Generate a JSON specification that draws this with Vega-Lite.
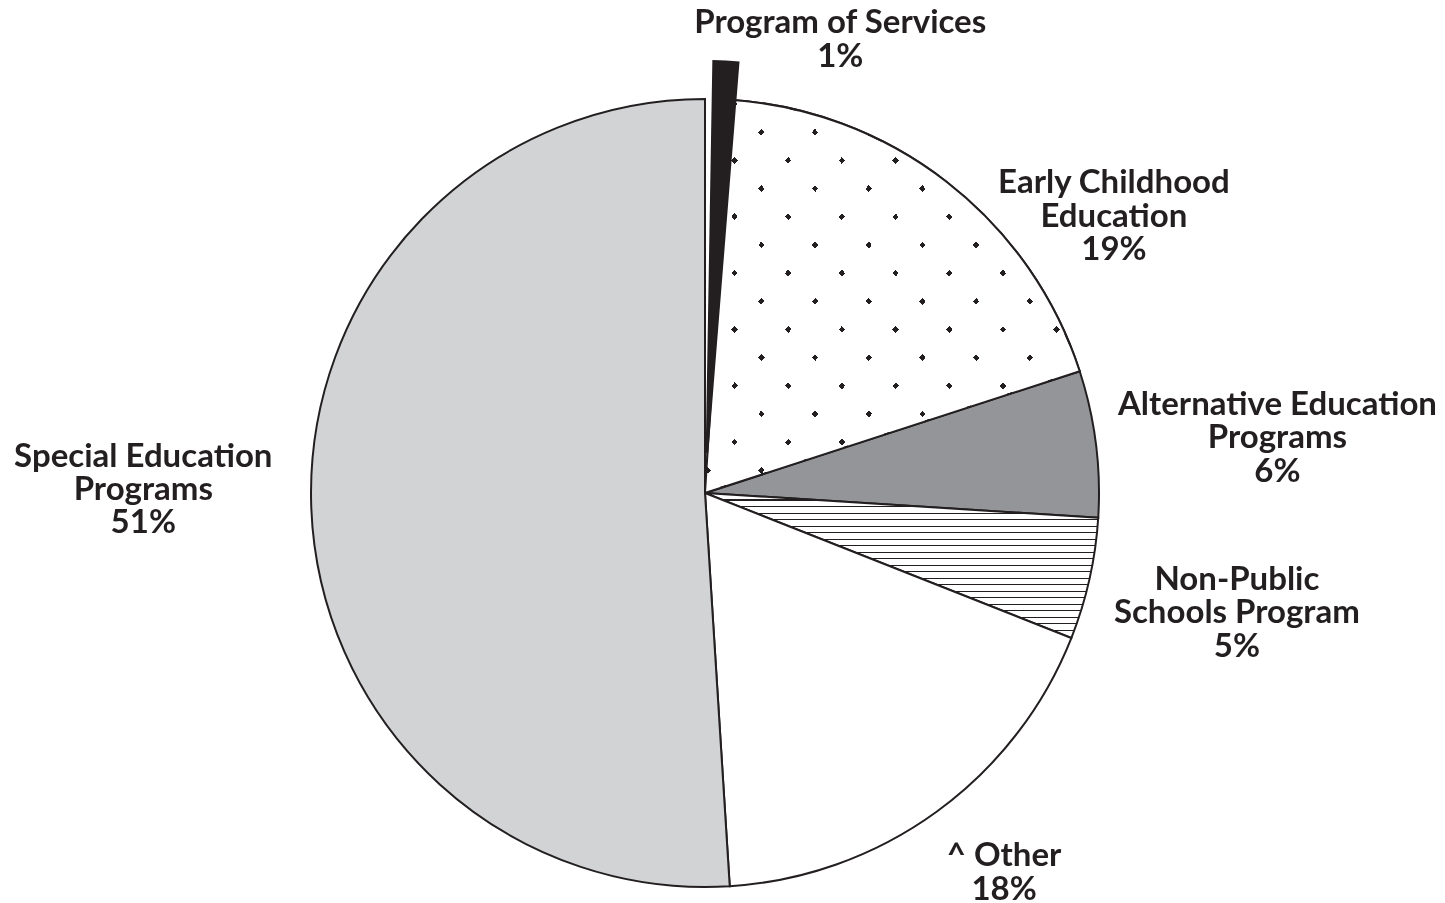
{
  "$schema": "https://vega.github.io/schema/vega-lite/v6.json",
  "width": 1410,
  "height": 788,
  "padding": {"left": 0, "top": 99, "right": 35, "bottom": 16},
  "autosize": {"type": "none"},
  "background": "#ffffff",
  "view": {"stroke": null},
  "data": {
    "values": [
      {"key": "POS", "idx": 1, "name": "Program of Services", "pct": 1},
      {"key": "ECE", "idx": 2, "name": "Early Childhood|Education", "pct": 19},
      {"key": "AEP", "idx": 3, "name": "Alternative Education|Programs", "pct": 6},
      {"key": "NPS", "idx": 4, "name": "Non-Public|Schools Program", "pct": 5},
      {"key": "OTH", "idx": 5, "name": "^ Other", "pct": 18},
      {"key": "SEP", "idx": 6, "name": "Special Education|Programs", "pct": 51}
    ]
  },
  "transform": [{"calculate": "datum.name + '|' + datum.pct + '%'", "as": "label"}],
  "encoding": {
    "theta": {"field": "pct", "type": "quantitative", "stack": true},
    "order": {"field": "idx", "type": "quantitative"},
    "detail": {"field": "key", "type": "nominal"}
  },
  "layer": [
    {
      "mark": {"type": "arc", "radius": 394, "stroke": "#231f20", "strokeWidth": 2},
      "encoding": {
        "fill": {
          "condition": [
            {"test": "datum.key === 'SEP'", "value": "#d1d3d4"},
            {"test": "datum.key === 'AEP'", "value": "#939598"},
            {"test": "datum.key === 'ECE'", "value": {
              "gradient": "linear", "x1": 0, "y1": 0, "x2": 1, "y2": 1,
              "stops": [
                {"offset": 0, "color": "#ffffff"},
                {"offset": 0.0405, "color": "#ffffff"}, {"offset": 0.0405, "color": "#231f20"}, {"offset": 0.0491, "color": "#231f20"}, {"offset": 0.0491, "color": "#ffffff"},
                {"offset": 0.1122, "color": "#ffffff"}, {"offset": 0.1122, "color": "#231f20"}, {"offset": 0.1208, "color": "#231f20"}, {"offset": 0.1208, "color": "#ffffff"},
                {"offset": 0.1838, "color": "#ffffff"}, {"offset": 0.1838, "color": "#231f20"}, {"offset": 0.1924, "color": "#231f20"}, {"offset": 0.1924, "color": "#ffffff"},
                {"offset": 0.2555, "color": "#ffffff"}, {"offset": 0.2555, "color": "#231f20"}, {"offset": 0.2641, "color": "#231f20"}, {"offset": 0.2641, "color": "#ffffff"},
                {"offset": 0.3271, "color": "#ffffff"}, {"offset": 0.3271, "color": "#231f20"}, {"offset": 0.3357, "color": "#231f20"}, {"offset": 0.3357, "color": "#ffffff"},
                {"offset": 0.3988, "color": "#ffffff"}, {"offset": 0.3988, "color": "#231f20"}, {"offset": 0.4074, "color": "#231f20"}, {"offset": 0.4074, "color": "#ffffff"},
                {"offset": 0.4704, "color": "#ffffff"}, {"offset": 0.4704, "color": "#231f20"}, {"offset": 0.4790, "color": "#231f20"}, {"offset": 0.4790, "color": "#ffffff"},
                {"offset": 0.5421, "color": "#ffffff"}, {"offset": 0.5421, "color": "#231f20"}, {"offset": 0.5507, "color": "#231f20"}, {"offset": 0.5507, "color": "#ffffff"},
                {"offset": 0.6137, "color": "#ffffff"}, {"offset": 0.6137, "color": "#231f20"}, {"offset": 0.6223, "color": "#231f20"}, {"offset": 0.6223, "color": "#ffffff"},
                {"offset": 0.6854, "color": "#ffffff"}, {"offset": 0.6854, "color": "#231f20"}, {"offset": 0.6940, "color": "#231f20"}, {"offset": 0.6940, "color": "#ffffff"},
                {"offset": 0.7570, "color": "#ffffff"}, {"offset": 0.7570, "color": "#231f20"}, {"offset": 0.7656, "color": "#231f20"}, {"offset": 0.7656, "color": "#ffffff"},
                {"offset": 0.8287, "color": "#ffffff"}, {"offset": 0.8287, "color": "#231f20"}, {"offset": 0.8373, "color": "#231f20"}, {"offset": 0.8373, "color": "#ffffff"},
                {"offset": 0.9003, "color": "#ffffff"}, {"offset": 0.9003, "color": "#231f20"}, {"offset": 0.9089, "color": "#231f20"}, {"offset": 0.9089, "color": "#ffffff"},
                {"offset": 0.9720, "color": "#ffffff"}, {"offset": 0.9720, "color": "#231f20"}, {"offset": 0.9806, "color": "#231f20"}, {"offset": 0.9806, "color": "#ffffff"},
                {"offset": 1, "color": "#ffffff"}
              ]
            }},
            {"test": "datum.key === 'NPS'", "value": {
              "gradient": "linear", "x1": 0, "y1": 0, "x2": 0, "y2": 1,
              "stops": [
                {"offset": 0, "color": "#ffffff"},
                {"offset": 0.0448, "color": "#ffffff"}, {"offset": 0.0448, "color": "#231f20"}, {"offset": 0.0541, "color": "#231f20"}, {"offset": 0.0541, "color": "#ffffff"},
                {"offset": 0.0897, "color": "#ffffff"}, {"offset": 0.0897, "color": "#231f20"}, {"offset": 0.0990, "color": "#231f20"}, {"offset": 0.0990, "color": "#ffffff"},
                {"offset": 0.1345, "color": "#ffffff"}, {"offset": 0.1345, "color": "#231f20"}, {"offset": 0.1438, "color": "#231f20"}, {"offset": 0.1438, "color": "#ffffff"},
                {"offset": 0.1793, "color": "#ffffff"}, {"offset": 0.1793, "color": "#231f20"}, {"offset": 0.1886, "color": "#231f20"}, {"offset": 0.1886, "color": "#ffffff"},
                {"offset": 0.2241, "color": "#ffffff"}, {"offset": 0.2241, "color": "#231f20"}, {"offset": 0.2334, "color": "#231f20"}, {"offset": 0.2334, "color": "#ffffff"},
                {"offset": 0.2690, "color": "#ffffff"}, {"offset": 0.2690, "color": "#231f20"}, {"offset": 0.2783, "color": "#231f20"}, {"offset": 0.2783, "color": "#ffffff"},
                {"offset": 0.3138, "color": "#ffffff"}, {"offset": 0.3138, "color": "#231f20"}, {"offset": 0.3231, "color": "#231f20"}, {"offset": 0.3231, "color": "#ffffff"},
                {"offset": 0.3586, "color": "#ffffff"}, {"offset": 0.3586, "color": "#231f20"}, {"offset": 0.3679, "color": "#231f20"}, {"offset": 0.3679, "color": "#ffffff"},
                {"offset": 0.4034, "color": "#ffffff"}, {"offset": 0.4034, "color": "#231f20"}, {"offset": 0.4127, "color": "#231f20"}, {"offset": 0.4127, "color": "#ffffff"},
                {"offset": 0.4483, "color": "#ffffff"}, {"offset": 0.4483, "color": "#231f20"}, {"offset": 0.4576, "color": "#231f20"}, {"offset": 0.4576, "color": "#ffffff"},
                {"offset": 0.4931, "color": "#ffffff"}, {"offset": 0.4931, "color": "#231f20"}, {"offset": 0.5024, "color": "#231f20"}, {"offset": 0.5024, "color": "#ffffff"},
                {"offset": 0.5379, "color": "#ffffff"}, {"offset": 0.5379, "color": "#231f20"}, {"offset": 0.5472, "color": "#231f20"}, {"offset": 0.5472, "color": "#ffffff"},
                {"offset": 0.5828, "color": "#ffffff"}, {"offset": 0.5828, "color": "#231f20"}, {"offset": 0.5921, "color": "#231f20"}, {"offset": 0.5921, "color": "#ffffff"},
                {"offset": 0.6276, "color": "#ffffff"}, {"offset": 0.6276, "color": "#231f20"}, {"offset": 0.6369, "color": "#231f20"}, {"offset": 0.6369, "color": "#ffffff"},
                {"offset": 0.6724, "color": "#ffffff"}, {"offset": 0.6724, "color": "#231f20"}, {"offset": 0.6817, "color": "#231f20"}, {"offset": 0.6817, "color": "#ffffff"},
                {"offset": 0.7172, "color": "#ffffff"}, {"offset": 0.7172, "color": "#231f20"}, {"offset": 0.7265, "color": "#231f20"}, {"offset": 0.7265, "color": "#ffffff"},
                {"offset": 0.7621, "color": "#ffffff"}, {"offset": 0.7621, "color": "#231f20"}, {"offset": 0.7714, "color": "#231f20"}, {"offset": 0.7714, "color": "#ffffff"},
                {"offset": 0.8069, "color": "#ffffff"}, {"offset": 0.8069, "color": "#231f20"}, {"offset": 0.8162, "color": "#231f20"}, {"offset": 0.8162, "color": "#ffffff"},
                {"offset": 0.8517, "color": "#ffffff"}, {"offset": 0.8517, "color": "#231f20"}, {"offset": 0.8610, "color": "#231f20"}, {"offset": 0.8610, "color": "#ffffff"},
                {"offset": 0.8966, "color": "#ffffff"}, {"offset": 0.8966, "color": "#231f20"}, {"offset": 0.9059, "color": "#231f20"}, {"offset": 0.9059, "color": "#ffffff"},
                {"offset": 0.9414, "color": "#ffffff"}, {"offset": 0.9414, "color": "#231f20"}, {"offset": 0.9507, "color": "#231f20"}, {"offset": 0.9507, "color": "#ffffff"},
                {"offset": 1, "color": "#ffffff"}
              ]
            }}
          ],
          "value": "#ffffff"
        },
        "strokeOpacity": {"condition": {"test": "datum.key === 'POS'", "value": 0}, "value": 1}
      }
    },
    {
      "mark": {"type": "arc", "radius": 394, "stroke": null, "blend": "lighten", "fill": {
        "gradient": "linear", "x1": 0, "y1": 1, "x2": 1, "y2": 0,
        "stops": [
          {"offset": 0, "color": "#ffffff"},
          {"offset": 0.0283, "color": "#ffffff"}, {"offset": 0.0283, "color": "#231f20"}, {"offset": 0.0369, "color": "#231f20"}, {"offset": 0.0369, "color": "#ffffff"},
          {"offset": 0.0999, "color": "#ffffff"}, {"offset": 0.0999, "color": "#231f20"}, {"offset": 0.1085, "color": "#231f20"}, {"offset": 0.1085, "color": "#ffffff"},
          {"offset": 0.1715, "color": "#ffffff"}, {"offset": 0.1715, "color": "#231f20"}, {"offset": 0.1801, "color": "#231f20"}, {"offset": 0.1801, "color": "#ffffff"},
          {"offset": 0.2431, "color": "#ffffff"}, {"offset": 0.2431, "color": "#231f20"}, {"offset": 0.2517, "color": "#231f20"}, {"offset": 0.2517, "color": "#ffffff"},
          {"offset": 0.3147, "color": "#ffffff"}, {"offset": 0.3147, "color": "#231f20"}, {"offset": 0.3233, "color": "#231f20"}, {"offset": 0.3233, "color": "#ffffff"},
          {"offset": 0.3863, "color": "#ffffff"}, {"offset": 0.3863, "color": "#231f20"}, {"offset": 0.3949, "color": "#231f20"}, {"offset": 0.3949, "color": "#ffffff"},
          {"offset": 0.4579, "color": "#ffffff"}, {"offset": 0.4579, "color": "#231f20"}, {"offset": 0.4665, "color": "#231f20"}, {"offset": 0.4665, "color": "#ffffff"},
          {"offset": 0.5295, "color": "#ffffff"}, {"offset": 0.5295, "color": "#231f20"}, {"offset": 0.5381, "color": "#231f20"}, {"offset": 0.5381, "color": "#ffffff"},
          {"offset": 0.6011, "color": "#ffffff"}, {"offset": 0.6011, "color": "#231f20"}, {"offset": 0.6097, "color": "#231f20"}, {"offset": 0.6097, "color": "#ffffff"},
          {"offset": 0.6727, "color": "#ffffff"}, {"offset": 0.6727, "color": "#231f20"}, {"offset": 0.6813, "color": "#231f20"}, {"offset": 0.6813, "color": "#ffffff"},
          {"offset": 0.7443, "color": "#ffffff"}, {"offset": 0.7443, "color": "#231f20"}, {"offset": 0.7529, "color": "#231f20"}, {"offset": 0.7529, "color": "#ffffff"},
          {"offset": 0.8159, "color": "#ffffff"}, {"offset": 0.8159, "color": "#231f20"}, {"offset": 0.8245, "color": "#231f20"}, {"offset": 0.8245, "color": "#ffffff"},
          {"offset": 0.8875, "color": "#ffffff"}, {"offset": 0.8875, "color": "#231f20"}, {"offset": 0.8961, "color": "#231f20"}, {"offset": 0.8961, "color": "#ffffff"},
          {"offset": 0.9591, "color": "#ffffff"}, {"offset": 0.9591, "color": "#231f20"}, {"offset": 0.9677, "color": "#231f20"}, {"offset": 0.9677, "color": "#ffffff"},
          {"offset": 1, "color": "#ffffff"}
        ]
      }},
      "encoding": {
        "opacity": {"condition": {"test": "datum.key === 'ECE'", "value": 1}, "value": 0}
      }
    },
    {
      "mark": {"type": "arc", "radius": 394, "fill": null, "filled": false, "stroke": "#231f20", "strokeWidth": 2},
      "encoding": {
        "strokeOpacity": {"condition": {"test": "datum.key === 'ECE'", "value": 1}, "value": 0}
      }
    },
    {
      "mark": {"type": "arc", "radius": 433, "radius2": 40, "thetaOffset": 0.017, "theta2Offset": 0.017, "fill": "#231f20", "stroke": null},
      "encoding": {
        "opacity": {"condition": {"test": "datum.key === 'POS'", "value": 1}, "value": 0}
      }
    },
    {
      "mark": {"type": "text", "radius": 453, "dx": 121, "dy": -7, "lineBreak": "|", "font": "Lato", "fontWeight": "bold", "fontSize": 33, "lineHeight": 33.4, "align": "center", "baseline": "alphabetic", "color": "#231f20"},
      "encoding": {"text": {"condition": {"test": "datum.key === 'POS'", "field": "label", "type": "nominal"}, "value": ""}}
    },
    {
      "mark": {"type": "text", "radius": 473, "dx": 119, "dy": 74, "lineBreak": "|", "font": "Lato", "fontWeight": "bold", "fontSize": 33, "lineHeight": 33.4, "align": "center", "baseline": "alphabetic", "color": "#231f20"},
      "encoding": {"text": {"condition": {"test": "datum.key === 'ECE'", "field": "label", "type": "nominal"}, "value": ""}}
    },
    {
      "mark": {"type": "text", "radius": 575, "dx": 2, "dy": -6, "lineBreak": "|", "font": "Lato", "fontWeight": "bold", "fontSize": 33, "lineHeight": 33.4, "align": "center", "baseline": "alphabetic", "color": "#231f20"},
      "encoding": {"text": {"condition": {"test": "datum.key === 'AEP'", "field": "label", "type": "nominal"}, "value": ""}}
    },
    {
      "mark": {"type": "text", "radius": 545, "dx": 0, "dy": -22, "lineBreak": "|", "font": "Lato", "fontWeight": "bold", "fontSize": 33, "lineHeight": 33.4, "align": "center", "baseline": "alphabetic", "color": "#231f20"},
      "encoding": {"text": {"condition": {"test": "datum.key === 'NPS'", "field": "label", "type": "nominal"}, "value": ""}}
    },
    {
      "mark": {"type": "text", "radius": 485, "dx": 14, "dy": -19, "lineBreak": "|", "font": "Lato", "fontWeight": "bold", "fontSize": 33, "lineHeight": 33.4, "align": "center", "baseline": "alphabetic", "color": "#231f20"},
      "encoding": {"text": {"condition": {"test": "datum.key === 'OTH'", "field": "label", "type": "nominal"}, "value": ""}}
    },
    {
      "mark": {"type": "text", "radius": 562, "dx": 0, "dy": -44, "lineBreak": "|", "font": "Lato", "fontWeight": "bold", "fontSize": 33, "lineHeight": 33.4, "align": "center", "baseline": "alphabetic", "color": "#231f20"},
      "encoding": {"text": {"condition": {"test": "datum.key === 'SEP'", "field": "label", "type": "nominal"}, "value": ""}}
    }
  ]
}
